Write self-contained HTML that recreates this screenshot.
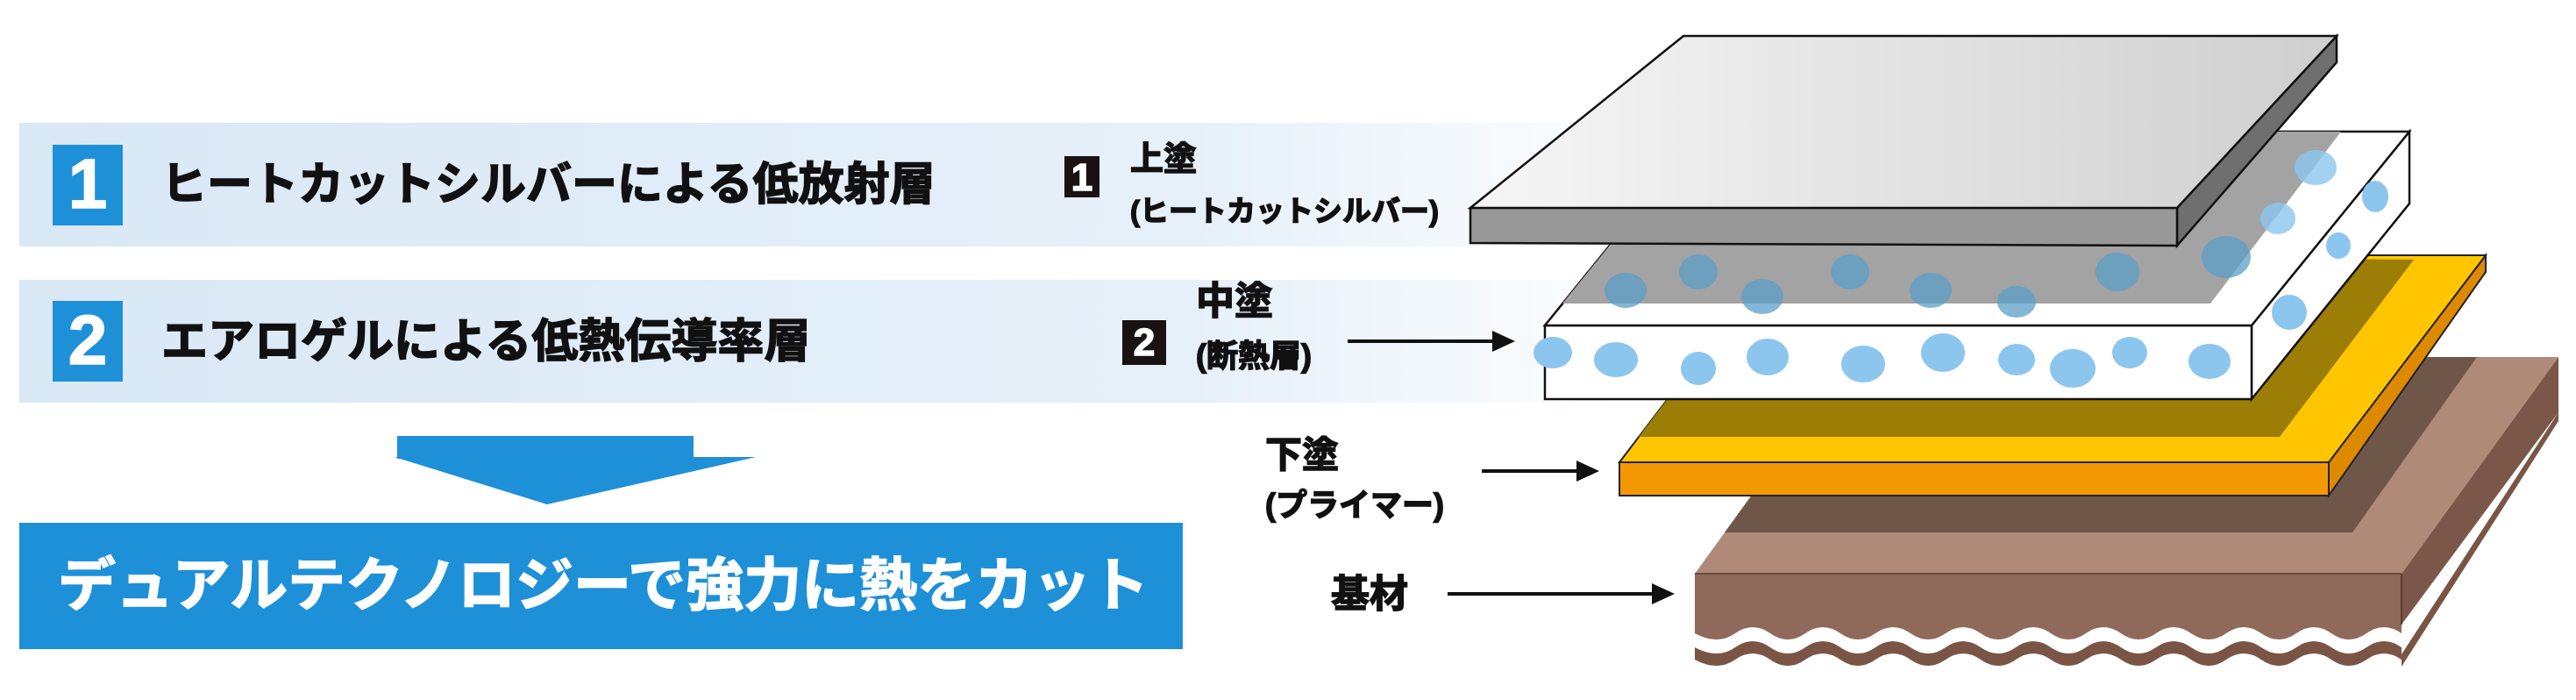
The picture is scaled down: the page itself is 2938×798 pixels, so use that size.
<!DOCTYPE html>
<html><head><meta charset="utf-8"><style>
html,body{margin:0;padding:0;background:#fff}
#c{position:relative;width:2938px;height:798px;overflow:hidden;background:#fff;font-family:"Liberation Sans","Noto Sans CJK JP",sans-serif;font-weight:bold}
.t{position:absolute;white-space:nowrap;line-height:1;color:#111;-webkit-text-stroke:1.5px #111}
.w{color:#fff;-webkit-text-stroke:1.5px #fff}
svg{position:absolute;left:0;top:0}
</style></head><body><div id="c">
<svg width="2938" height="798" viewBox="0 0 2938 798">
<defs>
<linearGradient id="band" x1="0" x2="1" y1="0" y2="0">
<stop offset="0" stop-color="#d9e8f5"/><stop offset="0.7" stop-color="#e6f0f9"/><stop offset="1" stop-color="#e6f0f9" stop-opacity="0"/>
</linearGradient>
<linearGradient id="sil" x1="0" x2="1" y1="0" y2="0">
<stop offset="0" stop-color="#f6f6f6"/><stop offset="1" stop-color="#cfcfcf"/>
</linearGradient>
</defs>
<rect x="22" y="140" width="1900" height="141" fill="url(#band)"/>
<rect x="22" y="319" width="1900" height="140" fill="url(#band)"/>
<rect x="60" y="165" width="80" height="92" fill="#1e90d8"/>
<rect x="60" y="343" width="80" height="92" fill="#1e90d8"/>
<rect x="453" y="497" width="338" height="26" fill="#1e90d8"/>
<polygon points="450,521 862,521 624,575" fill="#1e90d8"/>
<rect x="22" y="596" width="1327" height="144" fill="#1e90d8"/>
<rect x="1214" y="178" width="40" height="47" fill="#1a1212"/>
<rect x="1280" y="365" width="50" height="51" fill="#1a1212"/>

<path d="M1933,700 L2739,700 L2918,460 L2918,480 L2739,760 L2739,752 q-20,-14 -40,0 t-40,0 t-40,0 t-40,0 t-40,0 t-40,0 t-40,0 t-40,0 t-40,0 t-40,0 t-40,0 t-40,0 t-40,0 t-40,0 t-40,0 t-40,0 t-40,0 t-40,0 t-40,0 t-46,0 Z" fill="#7a5546"/>
<path d="M1933,700 L2739,700 L2918,455 L2918,470 L2739,746 L2739,738 q-20,-14 -40,0 t-40,0 t-40,0 t-40,0 t-40,0 t-40,0 t-40,0 t-40,0 t-40,0 t-40,0 t-40,0 t-40,0 t-40,0 t-40,0 t-40,0 t-40,0 t-40,0 t-40,0 t-40,0 t-46,0 Z" fill="#fff"/>
<polygon points="2739,654 2918,407 2918,470 2739,712" fill="#7b574a"/>
<path d="M1933,654 L2739,654 L2739,722 q-20,-14 -40,0 t-40,0 t-40,0 t-40,0 t-40,0 t-40,0 t-40,0 t-40,0 t-40,0 t-40,0 t-40,0 t-40,0 t-40,0 t-40,0 t-40,0 t-40,0 t-40,0 t-40,0 t-40,0 t-46,0 Z" fill="#8f6a5a"/>
<polygon points="2112,407 2918,407 2739,654 1933,654" fill="#b08a78"/>
<polygon points="2112,407 2825,407 2683,607 1967,607" fill="#6e5649"/>
<line x1="1933" y1="654" x2="2739" y2="654" stroke="#6a4a3c" stroke-width="2"/>
<line x1="2739" y1="654" x2="2739" y2="712" stroke="#5a3d30" stroke-width="2"/>

<polygon points="2656,527 2835,291 2835,310 2656,565" fill="#de8a00" stroke="#222" stroke-width="2"/>
<polygon points="1847,527 2656,527 2656,565 1847,565" fill="#f39800" stroke="#222" stroke-width="2"/>
<polygon points="2027,291 2835,291 2656,527 1847,527" fill="#ffc600" stroke="#222" stroke-width="2"/>
<polygon points="2027,291 2753,296 2600,498 1869,498" fill="#9c7d05"/>

<polygon points="2568,371 2748,150 2748,232 2568,455" fill="#fff" stroke="#111" stroke-width="2.5"/>
<polygon points="1762,371 2568,371 2568,455 1762,455" fill="#fff" stroke="#111" stroke-width="2.5"/>
<polygon points="1941,150 2748,150 2568,371 1762,371" fill="#fff" stroke="#111" stroke-width="2.5"/>
<polygon points="1941,150 2670,150 2521,346 1782,346" fill="#a3a3a3"/>
<g fill="#5b9ec8" opacity="0.75">
<ellipse cx="1854" cy="331" rx="24" ry="20"/><ellipse cx="1937" cy="310" rx="22" ry="20"/>
<ellipse cx="2010" cy="338" rx="24" ry="20"/><ellipse cx="2110" cy="310" rx="22" ry="20"/>
<ellipse cx="2202" cy="331" rx="24" ry="20"/><ellipse cx="2300" cy="344" rx="22" ry="18"/>
<ellipse cx="2415" cy="310" rx="25" ry="22"/><ellipse cx="2539" cy="293" rx="28" ry="24"/>
</g>
<g fill="#8cc6ee">
<ellipse cx="1771" cy="402" rx="22" ry="18"/><ellipse cx="1843" cy="410" rx="25" ry="20"/>
<ellipse cx="1937" cy="420" rx="20" ry="19"/><ellipse cx="2016" cy="407" rx="24" ry="21"/>
<ellipse cx="2125" cy="415" rx="25" ry="21"/><ellipse cx="2216" cy="402" rx="25" ry="22"/>
<ellipse cx="2300" cy="410" rx="21" ry="18"/><ellipse cx="2364" cy="420" rx="26" ry="22"/>
<ellipse cx="2429" cy="402" rx="20" ry="18"/><ellipse cx="2520" cy="412" rx="24" ry="20"/>
<ellipse cx="2641" cy="191" rx="24" ry="20" opacity="0.8"/><ellipse cx="2709" cy="224" rx="15" ry="18"/>
<ellipse cx="2598" cy="249" rx="20" ry="18" opacity="0.8"/><ellipse cx="2667" cy="280" rx="14" ry="15"/>
<ellipse cx="2611" cy="356" rx="20" ry="20"/>
</g>

<polygon points="2483,237 2665,41 2665,71 2483,280" fill="#6f6f6f" stroke="#111" stroke-width="2.5"/>
<polygon points="1677,237 2483,237 2483,280 1677,277" fill="#989898" stroke="#111" stroke-width="2.5"/>
<polygon points="1920,41 2665,41 2483,237 1677,237" fill="url(#sil)" stroke="#111" stroke-width="2.5"/>

<g stroke="#111" stroke-width="4">
<line x1="1537" y1="389" x2="1705" y2="389"/>
<line x1="1690" y1="537" x2="1802" y2="537"/>
<line x1="1651" y1="677" x2="1888" y2="677"/>
</g>
<g fill="#111">
<polygon points="1728,389 1702,377 1702,401"/>
<polygon points="1824,537 1798,525 1798,549"/>
<polygon points="1910,677 1884,665 1884,689"/>
</g>
</svg>

<div class="t w" style="left:60px;top:170px;width:80px;text-align:center;font-size:80px">1</div>
<div class="t w" style="left:60px;top:348px;width:80px;text-align:center;font-size:80px">2</div>
<div class="t" style="left:184px;top:185px;font-size:52px">ヒートカットシルバーによる低放射層</div>
<div class="t" style="left:184px;top:363px;font-size:53px">エアロゲルによる低熱伝導率層</div>
<div class="t w" style="left:66px;top:634px;font-size:66px">デュアルテクノロジーで強力に熱をカット</div>

<div class="t w" style="left:1214px;top:181px;width:40px;text-align:center;font-size:44px">1</div>
<div class="t w" style="left:1280px;top:369px;width:50px;text-align:center;font-size:44px">2</div>
<div class="t" style="left:1289px;top:163px;font-size:38px">上塗</div>
<div class="t" style="left:1289px;top:224px;font-size:33px">(ヒートカットシルバー)</div>
<div class="t" style="left:1364px;top:322px;font-size:44px">中塗</div>
<div class="t" style="left:1364px;top:388px;font-size:36px">(断熱層)</div>
<div class="t" style="left:1443px;top:498px;font-size:42px">下塗</div>
<div class="t" style="left:1443px;top:558px;font-size:36px">(プライマー)</div>
<div class="t" style="left:1518px;top:656px;font-size:44px">基材</div>
</div></body></html>
